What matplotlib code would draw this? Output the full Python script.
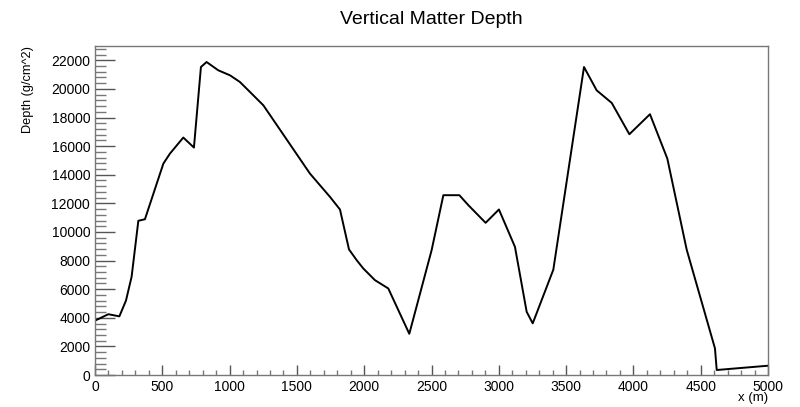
import matplotlib
matplotlib.use('Agg')
import matplotlib.pyplot as plt
from matplotlib.ticker import MultipleLocator

plt.rcParams['font.family'] = ['Liberation Sans', 'DejaVu Sans']

# depth profile
x_m = [0, 99, 181, 230, 272, 322, 371, 508, 557, 656, 735, 787, 829, 916,
       1003, 1077, 1152, 1251, 1597, 1746, 1820, 1887, 1944, 1993, 2080,
       2179, 2335, 2501, 2588, 2707, 2774, 2902, 3001, 3120, 3207, 3252,
       3405, 3633, 3727, 3839, 3970, 4123, 4252, 4396, 4606, 4619, 5000]
depth = [3800, 4250, 4100, 5200, 6870, 10780, 10890, 14780, 15480, 16600,
         15900, 21530, 21880, 21300, 20950, 20480, 19780, 18850, 14080,
         12450, 11570, 8780, 8030, 7450, 6630, 6050, 2880, 8730, 12570,
         12570, 11870, 10640, 11570, 8960, 4420, 3610, 7360, 21530, 19900,
         19020, 16830, 18230, 15130, 8760, 1860, 350, 650]

fig = plt.figure(figsize=(8, 4.07), dpi=100)
ax = fig.add_axes([0.11875, 0.0786, 0.84125, 0.8084])

ax.plot(x_m, depth, color='black', lw=1.4)

ax.set_xlim(0, 5000)
ax.set_ylim(0, 23000)
ax.xaxis.set_major_locator(MultipleLocator(500))
ax.xaxis.set_minor_locator(MultipleLocator(100))
ax.yaxis.set_major_locator(MultipleLocator(2000))
ax.yaxis.set_minor_locator(MultipleLocator(400))

for s in ax.spines.values():
    s.set_color('#777777')
    s.set_linewidth(1)

ax.tick_params(axis='x', which='major', direction='in', length=7.2, width=1,
               color='#555555', labelsize=10, pad=3.5)
ax.tick_params(axis='x', which='minor', direction='in', length=3.6, width=1,
               color='#777777')
ax.tick_params(axis='y', which='major', direction='in', length=14.4, width=1,
               color='#555555', labelsize=10, pad=3.5)
ax.tick_params(axis='y', which='minor', direction='in', length=7.9, width=1,
               color='#777777')

fig.text(0.5394, 0.953, 'Vertical Matter Depth', ha='center', va='center',
         fontsize=14)
fig.text(0.96, 0.022, 'x (m)', ha='right', va='center', fontsize=9.5)
fig.text(0.035, 0.887, 'Depth (g/cm^2)', ha='center', va='top',
         rotation=90, fontsize=9.2)

fig.savefig('out.png', dpi=100)
